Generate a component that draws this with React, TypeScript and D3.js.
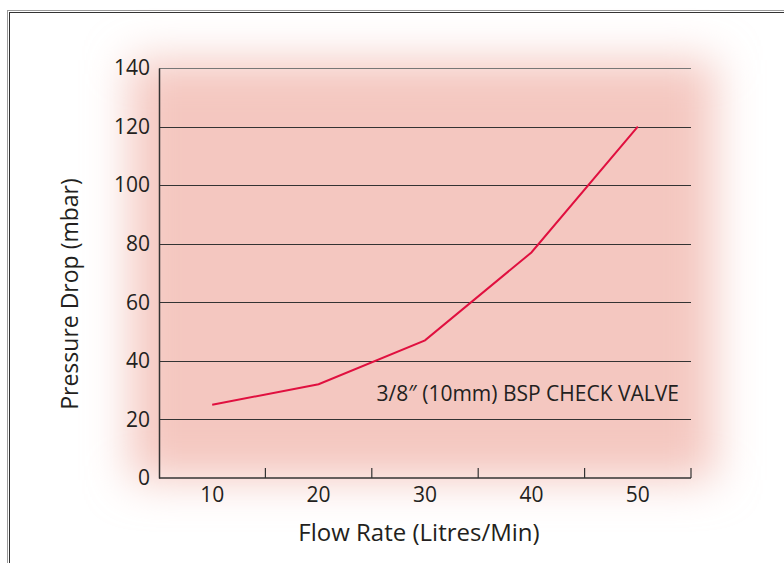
import React, { useRef, useEffect } from 'react';
import * as d3 from 'd3';

const flowRates = ['10', '20', '30', '40', '50'];
const pressureDrop = [25, 32, 47, 77, 120];
const yTicks = [0, 20, 40, 60, 80, 100, 120, 140];
const seriesLabel = '3/8\u2033 (10mm) BSP CHECK VALVE';

function Chart() {
  const chartRef = useRef(null);

  useEffect(() => {
    const svg = d3.select(chartRef.current);
    svg.selectAll('*').remove();

    const margin = { top: 68, left: 159, right: 93, bottom: 85 };
    const width = 784;
    const height = 563;
    const font = '"Open Sans", "DejaVu Sans", sans-serif';
    const ink = '#231f20';

    // soft pink glow behind the plot
    const defs = svg.append('defs');
    defs
      .append('filter')
      .attr('id', 'glow')
      .attr('x', '-20%')
      .attr('y', '-20%')
      .attr('width', '140%')
      .attr('height', '140%')
      .append('feGaussianBlur')
      .attr('stdDeviation', 22);

    svg
      .append('rect')
      .attr('width', width)
      .attr('height', height)
      .attr('fill', '#fff');

    // outer frame (double line)
    svg
      .append('rect')
      .attr('x', 7.5)
      .attr('y', 10.5)
      .attr('width', 900)
      .attr('height', 700)
      .attr('fill', 'none')
      .attr('stroke', '#9a9a9a');
    svg
      .append('rect')
      .attr('x', 9.5)
      .attr('y', 12.5)
      .attr('width', 900)
      .attr('height', 700)
      .attr('fill', 'none')
      .attr('stroke', '#333');

    svg
      .append('rect')
      .attr('x', 130)
      .attr('y', 60)
      .attr('width', 585)
      .attr('height', 420)
      .attr('fill', '#f4c7c0')
      .attr('filter', 'url(#glow)');

    const xScale = d3
      .scaleBand()
      .domain(flowRates)
      .range([margin.left, width - margin.right]);

    const yScale = d3
      .scaleLinear()
      .domain([0, 140])
      .range([height - margin.bottom, margin.top]);

    // grid lines
    svg
      .append('g')
      .selectAll('line')
      .data(yTicks.filter((d) => d > 0))
      .enter()
      .append('line')
      .attr('x1', margin.left)
      .attr('x2', width - margin.right)
      .attr('y1', (d) => Math.round(yScale(d)) + 0.5)
      .attr('y2', (d) => Math.round(yScale(d)) + 0.5)
      .attr('stroke', (d) => (d === 140 ? '#777' : '#333'))
      .attr('stroke-width', 1.2);

    // y axis
    const yAxis = svg
      .append('g')
      .attr('transform', `translate(${margin.left},0)`)
      .call(d3.axisLeft(yScale).tickValues(yTicks).tickSize(0).tickPadding(9));
    yAxis.select('.domain').attr('stroke', '#333').attr('stroke-width', 1.5);
    yAxis
      .selectAll('text')
      .attr('font-family', font)
      .attr('font-size', 21)
      .attr('fill', ink);

    // x axis with inward ticks at band edges
    const x0 = xScale.range()[0];
    const y0 = yScale(0);
    const xAxis = svg.append('g').attr('transform', `translate(0,${y0})`);
    xAxis
      .append('line')
      .attr('x1', x0)
      .attr('x2', width - margin.right)
      .attr('y1', 0)
      .attr('y2', 0)
      .attr('stroke', '#333')
      .attr('stroke-width', 1.5);
    xAxis
      .selectAll('line.tick')
      .data(flowRates)
      .enter()
      .append('line')
      .attr('class', 'tick')
      .attr('x1', (d) => xScale(d) + xScale.bandwidth())
      .attr('x2', (d) => xScale(d) + xScale.bandwidth())
      .attr('y1', 0)
      .attr('y2', -10)
      .attr('stroke', '#333')
      .attr('stroke-width', 1.2);
    xAxis
      .selectAll('text')
      .data(flowRates)
      .enter()
      .append('text')
      .attr('x', (d) => xScale(d) + xScale.bandwidth() / 2)
      .attr('y', 24)
      .attr('text-anchor', 'middle')
      .attr('font-family', font)
      .attr('font-size', 21)
      .attr('fill', ink)
      .text((d) => d);

    // line
    const line = d3
      .line()
      .x((d, i) => xScale(flowRates[i]) + xScale.bandwidth() / 2)
      .y((d) => yScale(d));
    svg
      .append('path')
      .datum(pressureDrop)
      .attr('d', line)
      .attr('fill', 'none')
      .attr('stroke', '#e0103f')
      .attr('stroke-width', 2);

    // series label
    svg
      .append('text')
      .attr('x', 679)
      .attr('y', 401)
      .attr('text-anchor', 'end')
      .attr('font-family', font)
      .attr('font-size', 21)
      .attr('fill', ink)
      .text(seriesLabel);

    // axis titles
    svg
      .append('text')
      .attr('x', 419)
      .attr('y', 541)
      .attr('text-anchor', 'middle')
      .attr('font-family', font)
      .attr('font-size', 24)
      .attr('fill', ink)
      .text('Flow Rate (Litres/Min)');

    svg
      .append('text')
      .attr('transform', 'translate(78,294) rotate(-90)')
      .attr('text-anchor', 'middle')
      .attr('font-family', font)
      .attr('font-size', 23)
      .attr('fill', ink)
      .text('Pressure Drop (mbar)');
  }, []);

  return (
    <svg
      ref={chartRef}
      width={784}
      height={563}
      style={{ position: 'absolute', left: 0, top: 0 }}
    ></svg>
  );
}

export default function App() {
  return <Chart />;
}
